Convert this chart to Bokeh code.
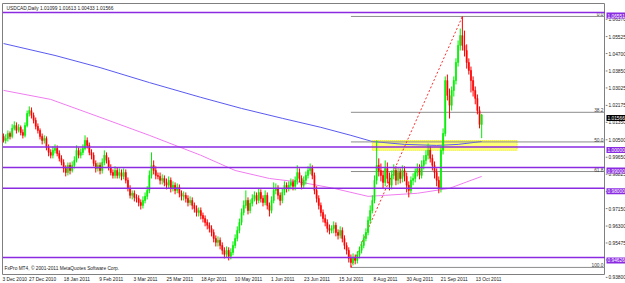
from bokeh.plotting import figure
from bokeh.layouts import row
from bokeh.models import ColumnDataSource, Range1d, FixedTicker, Span, Label
from bokeh.embed import file_html
from bokeh.resources import INLINE
from bokeh.core.properties import value

chart_title = "USDCAD,Daily  1.01099 1.01613 1.00433 1.01566"
copyright_note = "FxPro MT4, \u00a9 2001-2011 MetaQuotes Software Corp."

opens = [
    1.0052, 1.0032, 1.0042, 1.0066, 1.0052, 1.0091, 1.0105, 1.0081, 1.0096, 1.0071,
    1.0057, 1.0105, 1.0163, 1.0178, 1.0154, 1.0130, 1.0101, 1.0081, 1.0052, 1.0032,
    1.0042, 0.9998, 0.9974, 0.9960, 0.9984, 0.9993, 0.9969, 0.9945, 0.9925, 0.9896,
    0.9876, 0.9911, 0.9886, 0.9911, 0.9935, 0.9984, 0.9960, 0.9974, 0.9993, 1.0032,
    1.0008, 0.9974, 0.9960, 0.9920, 0.9896, 0.9911, 0.9886, 0.9925, 0.9960, 0.9935,
    0.9901, 0.9876, 0.9862, 0.9886, 0.9862, 0.9876, 0.9857, 0.9876, 0.9838, 0.9799,
    0.9765, 0.9775, 0.9755, 0.9750, 0.9730, 0.9716, 0.9740, 0.9760, 0.9789, 0.9862,
    0.9911, 0.9886, 0.9862, 0.9857, 0.9838, 0.9847, 0.9828, 0.9814, 0.9838, 0.9799,
    0.9814, 0.9789, 0.9804, 0.9775, 0.9760, 0.9765, 0.9750, 0.9730, 0.9740, 0.9716,
    0.9701, 0.9681, 0.9691, 0.9667, 0.9652, 0.9633, 0.9619, 0.9604, 0.9584, 0.9555,
    0.9536, 0.9546, 0.9521, 0.9497, 0.9477, 0.9497, 0.9468, 0.9487, 0.9521, 0.9555,
    0.9594, 0.9633, 0.9681, 0.9716, 0.9740, 0.9691, 0.9726, 0.9750, 0.9765, 0.9740,
    0.9779, 0.9750, 0.9730, 0.9765, 0.9716, 0.9691, 0.9740, 0.9789, 0.9799, 0.9765,
    0.9740, 0.9779, 0.9814, 0.9799, 0.9814, 0.9828, 0.9809, 0.9838, 0.9876, 0.9847,
    0.9814, 0.9838, 0.9862, 0.9886, 0.9896, 0.9862, 0.9789, 0.9750, 0.9716, 0.9681,
    0.9652, 0.9633, 0.9604, 0.9594, 0.9604, 0.9619, 0.9584, 0.9570, 0.9594, 0.9555,
    0.9521, 0.9497, 0.9458, 0.9438, 0.9463, 0.9448, 0.9473, 0.9497, 0.9521, 0.9555,
    0.9584, 0.9643, 0.9691, 0.9740, 0.9838, 0.9911, 0.9886, 0.9862, 0.9828, 0.9896,
    0.9847, 0.9814, 0.9862, 0.9886, 0.9838, 0.9876, 0.9847, 0.9886, 0.9857, 0.9814,
    0.9789, 0.9838, 0.9847, 0.9876, 0.9896, 0.9862, 0.9911, 0.9935, 0.9960, 0.9984,
    0.9945, 0.9911, 0.9876, 0.9838, 0.9799, 0.9984, 1.0066, 1.0324, 1.0251, 1.0203,
    1.0276, 1.0324, 1.0412, 1.0495, 1.0543, 1.0495, 1.0470, 1.0412, 1.0373, 1.0324,
    1.0276, 1.0237, 1.0178, 1.01099,
]
highs = [
    1.0066, 1.0062, 1.0081, 1.0076, 1.0111, 1.0125, 1.0120, 1.0111, 1.0105, 1.0086,
    1.0120, 1.0178, 1.0198, 1.0193, 1.0168, 1.0144, 1.0115, 1.0091, 1.0066, 1.0057,
    1.0052, 1.0013, 0.9989, 1.0003, 1.0013, 1.0008, 0.9984, 0.9960, 0.9940, 0.9911,
    0.9925, 0.9925, 0.9930, 0.9955, 1.0008, 0.9998, 0.9993, 1.0013, 1.0057, 1.0047,
    1.0022, 0.9989, 0.9974, 0.9935, 0.9925, 0.9925, 0.9945, 0.9984, 0.9974, 0.9950,
    0.9916, 0.9891, 0.9906, 0.9901, 0.9896, 0.9891, 0.9896, 0.9891, 0.9852, 0.9814,
    0.9789, 0.9789, 0.9770, 0.9765, 0.9745, 0.9760, 0.9779, 0.9809, 0.9886, 0.9974,
    0.9935, 0.9906, 0.9876, 0.9876, 0.9867, 0.9862, 0.9847, 0.9857, 0.9852, 0.9833,
    0.9828, 0.9823, 0.9818, 0.9789, 0.9784, 0.9779, 0.9765, 0.9760, 0.9755, 0.9730,
    0.9716, 0.9706, 0.9706, 0.9681, 0.9667, 0.9648, 0.9633, 0.9619, 0.9599, 0.9570,
    0.9565, 0.9560, 0.9536, 0.9512, 0.9516, 0.9512, 0.9507, 0.9541, 0.9575, 0.9614,
    0.9652, 0.9701, 0.9740, 0.9789, 0.9755, 0.9745, 0.9770, 0.9784, 0.9779, 0.9799,
    0.9794, 0.9765, 0.9789, 0.9779, 0.9730, 0.9760, 0.9828, 0.9823, 0.9814, 0.9779,
    0.9799, 0.9833, 0.9828, 0.9833, 0.9847, 0.9843, 0.9857, 0.9911, 0.9896, 0.9862,
    0.9857, 0.9881, 0.9906, 0.9920, 0.9911, 0.9876, 0.9809, 0.9765, 0.9730, 0.9696,
    0.9672, 0.9648, 0.9623, 0.9619, 0.9638, 0.9633, 0.9599, 0.9614, 0.9609, 0.9570,
    0.9536, 0.9512, 0.9477, 0.9482, 0.9477, 0.9492, 0.9516, 0.9541, 0.9575, 0.9604,
    0.9662, 0.9716, 0.9765, 0.9862, 1.0032, 0.9945, 0.9920, 0.9886, 0.9935, 0.9925,
    0.9876, 0.9886, 0.9916, 0.9906, 0.9901, 0.9896, 0.9911, 0.9906, 0.9876, 0.9833,
    0.9857, 0.9872, 0.9896, 0.9920, 0.9916, 0.9935, 0.9960, 0.9984, 1.0017, 1.0003,
    0.9964, 0.9930, 0.9896, 0.9857, 1.0003, 1.0091, 1.0344, 1.0353, 1.0285, 1.0295,
    1.0344, 1.0432, 1.0519, 1.0577, 1.0636, 1.0567, 1.0500, 1.0432, 1.0392, 1.0344,
    1.0295, 1.0256, 1.0198, 1.01613,
]
lows = [
    1.0022, 1.0017, 1.0027, 1.0037, 1.0042, 1.0081, 1.0066, 1.0071, 1.0057, 1.0042,
    1.0047, 1.0096, 1.0149, 1.0139, 1.0115, 1.0086, 1.0066, 1.0037, 1.0013, 1.0017,
    0.9984, 0.9955, 0.9945, 0.9945, 0.9969, 0.9955, 0.9930, 0.9911, 0.9876, 0.9857,
    0.9862, 0.9867, 0.9876, 0.9896, 0.9925, 0.9945, 0.9945, 0.9960, 0.9984, 0.9993,
    0.9960, 0.9940, 0.9906, 0.9876, 0.9881, 0.9867, 0.9871, 0.9911, 0.9920, 0.9886,
    0.9862, 0.9847, 0.9847, 0.9847, 0.9847, 0.9838, 0.9843, 0.9823, 0.9784, 0.9750,
    0.9745, 0.9735, 0.9730, 0.9711, 0.9696, 0.9701, 0.9726, 0.9745, 0.9775, 0.9847,
    0.9867, 0.9843, 0.9843, 0.9818, 0.9818, 0.9809, 0.9794, 0.9799, 0.9779, 0.9784,
    0.9770, 0.9775, 0.9755, 0.9740, 0.9740, 0.9730, 0.9711, 0.9716, 0.9696, 0.9681,
    0.9662, 0.9662, 0.9648, 0.9633, 0.9614, 0.9599, 0.9584, 0.9565, 0.9536, 0.9516,
    0.9516, 0.9502, 0.9477, 0.9458, 0.9463, 0.9448, 0.9453, 0.9473, 0.9507, 0.9541,
    0.9580, 0.9619, 0.9667, 0.9701, 0.9672, 0.9677, 0.9711, 0.9735, 0.9721, 0.9726,
    0.9730, 0.9711, 0.9716, 0.9696, 0.9662, 0.9677, 0.9726, 0.9770, 0.9745, 0.9716,
    0.9726, 0.9765, 0.9779, 0.9784, 0.9794, 0.9789, 0.9789, 0.9818, 0.9828, 0.9794,
    0.9799, 0.9818, 0.9847, 0.9867, 0.9843, 0.9770, 0.9730, 0.9696, 0.9662, 0.9633,
    0.9614, 0.9584, 0.9575, 0.9580, 0.9580, 0.9565, 0.9550, 0.9555, 0.9536, 0.9502,
    0.9477, 0.9438, 0.9414, 0.9424, 0.9429, 0.9433, 0.9458, 0.9482, 0.9507, 0.9541,
    0.9570, 0.9628, 0.9677, 0.9726, 0.9818, 0.9857, 0.9833, 0.9799, 0.9809, 0.9823,
    0.9789, 0.9794, 0.9843, 0.9814, 0.9818, 0.9823, 0.9828, 0.9833, 0.9779, 0.9755,
    0.9775, 0.9814, 0.9828, 0.9857, 0.9843, 0.9847, 0.9891, 0.9916, 0.9940, 0.9925,
    0.9886, 0.9847, 0.9809, 0.9775, 0.9779, 0.9964, 1.0052, 1.0227, 1.0139, 1.0178,
    1.0246, 1.0305, 1.0392, 1.0470, 1.0470, 1.0441, 1.0382, 1.0353, 1.0266, 1.0246,
    1.0208, 1.0159, 1.0091, 1.00433,
]
closes = [
    1.0032, 1.0042, 1.0066, 1.0052, 1.0091, 1.0105, 1.0081, 1.0096, 1.0071, 1.0057,
    1.0105, 1.0163, 1.0178, 1.0154, 1.0130, 1.0101, 1.0081, 1.0052, 1.0032, 1.0042,
    0.9998, 0.9974, 0.9960, 0.9984, 0.9993, 0.9969, 0.9945, 0.9925, 0.9896, 0.9876,
    0.9911, 0.9886, 0.9911, 0.9935, 0.9984, 0.9960, 0.9974, 0.9993, 1.0032, 1.0008,
    0.9974, 0.9960, 0.9920, 0.9896, 0.9911, 0.9886, 0.9925, 0.9960, 0.9935, 0.9901,
    0.9876, 0.9862, 0.9886, 0.9862, 0.9876, 0.9857, 0.9876, 0.9838, 0.9799, 0.9765,
    0.9775, 0.9755, 0.9750, 0.9730, 0.9716, 0.9740, 0.9760, 0.9789, 0.9862, 0.9911,
    0.9886, 0.9862, 0.9857, 0.9838, 0.9847, 0.9828, 0.9814, 0.9838, 0.9799, 0.9814,
    0.9789, 0.9804, 0.9775, 0.9760, 0.9765, 0.9750, 0.9730, 0.9740, 0.9716, 0.9701,
    0.9681, 0.9691, 0.9667, 0.9652, 0.9633, 0.9619, 0.9604, 0.9584, 0.9555, 0.9536,
    0.9546, 0.9521, 0.9497, 0.9477, 0.9497, 0.9468, 0.9487, 0.9521, 0.9555, 0.9594,
    0.9633, 0.9681, 0.9716, 0.9740, 0.9691, 0.9726, 0.9750, 0.9765, 0.9740, 0.9779,
    0.9750, 0.9730, 0.9765, 0.9716, 0.9691, 0.9740, 0.9789, 0.9799, 0.9765, 0.9740,
    0.9779, 0.9814, 0.9799, 0.9814, 0.9828, 0.9809, 0.9838, 0.9876, 0.9847, 0.9814,
    0.9838, 0.9862, 0.9886, 0.9896, 0.9862, 0.9789, 0.9750, 0.9716, 0.9681, 0.9652,
    0.9633, 0.9604, 0.9594, 0.9604, 0.9619, 0.9584, 0.9570, 0.9594, 0.9555, 0.9521,
    0.9497, 0.9458, 0.9438, 0.9463, 0.9448, 0.9473, 0.9497, 0.9521, 0.9555, 0.9584,
    0.9643, 0.9691, 0.9740, 0.9838, 0.9911, 0.9886, 0.9862, 0.9828, 0.9896, 0.9847,
    0.9814, 0.9862, 0.9886, 0.9838, 0.9876, 0.9847, 0.9886, 0.9857, 0.9814, 0.9789,
    0.9838, 0.9847, 0.9876, 0.9896, 0.9862, 0.9911, 0.9935, 0.9960, 0.9984, 0.9945,
    0.9911, 0.9876, 0.9838, 0.9799, 0.9984, 1.0066, 1.0324, 1.0251, 1.0203, 1.0276,
    1.0324, 1.0412, 1.0495, 1.0543, 1.0495, 1.0470, 1.0412, 1.0373, 1.0324, 1.0276,
    1.0237, 1.0178, 1.0110, 1.01566,
]

date_tick_bars = [0, 13, 29, 45, 61, 77, 93, 109, 125, 141, 157, 173, 189, 205, 221]
date_tick_labels = ["3 Dec 2010", "27 Dec 2010", "18 Jan 2011", "9 Feb 2011", "3 Mar 2011",
                    "25 Mar 2011", "18 Apr 2011", "10 May 2011", "1 Jun 2011", "23 Jun 2011",
                    "15 Jul 2011", "8 Aug 2011", "30 Aug 2011", "21 Sep 2011", "13 Oct 2011"]

price_ticks = [1.06370, 1.05525, 1.04700, 1.03850, 1.03025, 1.02175, 1.01350, 1.00500,
               0.99650, 0.98825, 0.97975, 0.97150, 0.96300, 0.95475, 0.94650, 0.93800]

hline_levels = [1.06551, 1.00000, 0.99000, 0.98000, 0.94626]
last_price = 1.01566

ma_slow_bars = [0, 24, 45, 68, 92, 111, 130, 148, 162, 172, 187, 202, 212, 223]
ma_slow_values = [1.0504, 1.0446, 1.0387, 1.0314, 1.0242, 1.0188, 1.0140, 1.0096, 1.0057,
                  1.0027, 1.0013, 1.0008, 1.0013, 1.0027]
ma_fast_bars = [0, 22, 45, 68, 92, 108, 124, 139, 154, 170, 178, 193, 208, 218, 223]
ma_fast_values = [1.0276, 1.0232, 1.0145, 1.0057, 0.9960, 0.9886, 0.9847, 0.9828, 0.9799,
                  0.9760, 0.9765, 0.9775, 0.9799, 0.9838, 0.9857]

fib_levels = [0.0, 38.2, 50.0, 61.8, 100.0]

zone_bars = [172, 239.5]
zone_prices = [0.9984, 1.0032]

# ---------------------------------------------------------------
FONT = "Liberation Sans"
FS = "4.8px"
PURPLE = "#8A2BE2"
TXT = "#202020"

FRAME_W, FRAME_H = 603, 271
TOP_PAD, BOT_PAD = 3, 9
x_start, x_end = -0.5, 280.75
y_start, y_end = 0.93795, 1.0699
label_shift = 5.2      # date labels start at their bar (MT4 style)

p = figure(frame_width=FRAME_W, frame_height=FRAME_H, x_range=Range1d(x_start, x_end),
           y_range=Range1d(y_start, y_end), y_axis_location=None,
           toolbar_location=None, output_backend="svg",
           min_border_left=2, min_border_top=TOP_PAD, min_border_right=0,
           min_border_bottom=BOT_PAD,
           background_fill_color="white", border_fill_color="white",
           outline_line_color="#7f7f7f")
p.grid.visible = False

# time axis
shifted = [b + label_shift for b in date_tick_bars]
xa = p.xaxis[0]
xa.ticker = FixedTicker(ticks=shifted)
xa.major_label_overrides = {s: t for s, t in zip(shifted, date_tick_labels)}
xa.axis_line_color = None
xa.major_tick_line_color = None
xa.minor_tick_line_color = None
xa.major_tick_out = 0
xa.major_tick_in = 0
xa.minor_tick_out = 0
xa.minor_tick_in = 0
xa.major_label_standoff = 2
xa.major_label_text_font = FONT
xa.major_label_text_font_size = FS
xa.major_label_text_color = TXT

# yellow zone
p.quad(left=zone_bars[0], right=zone_bars[1], bottom=zone_prices[0], top=zone_prices[1],
       fill_color="#FFFF66", fill_alpha=0.9, line_color="#E8E800", line_width=1,
       line_dash="1 1")

# moving averages
p.line(ma_slow_bars, ma_slow_values, line_color="#5a5af0", line_width=1)
p.line(ma_fast_bars, ma_fast_values, line_color="#f07cf0", line_width=1)

# fibonacci from low to high
hi = max(highs)
lo = min(lows)
i_hi = highs.index(hi)
i_lo = lows.index(lo)
fib_prices = [hi - (hi - lo) * lv / 100.0 for lv in fib_levels]
p.segment(x0=[i_lo] * len(fib_prices), y0=fib_prices, x1=[x_end] * len(fib_prices),
          y1=fib_prices, line_color="#8c8c8c", line_width=1)
p.text(x=[x_end] * len(fib_prices), y=fib_prices, text=[f"{lv:.1f}" for lv in fib_levels],
       text_align="right", text_baseline="bottom", x_offset=-2, y_offset=0,
       text_font=value(FONT), text_font_size=FS, text_color="#404040")
p.line([i_lo, i_hi], [lo, hi], line_color="#ff3030", line_width=1, line_dash="2 2")

# candles
n = len(closes)
up = [c >= o for o, c in zip(opens, closes)]
src = ColumnDataSource(dict(
    x=list(range(n)), o=opens, h=highs, l=lows, c=closes,
    top=[max(o, c) for o, c in zip(opens, closes)],
    bottom=[min(o, c) for o, c in zip(opens, closes)],
    color=["#00f000" if u else "#ff0000" for u in up],
))
p.segment(x0="x", y0="l", x1="x", y1="h", line_color="color", line_width=1, source=src)
p.vbar(x="x", width=0.5, top="top", bottom="bottom", fill_color="color",
       line_color="color", line_width=0.6, source=src)

# horizontal lines
for lv in hline_levels:
    p.add_layout(Span(location=lv, dimension="width", line_color=PURPLE, line_width=1.5))

# texts
p.add_layout(Label(x=x_start, y=y_end, x_offset=4, y_offset=-2, text=chart_title,
                   text_baseline="top", text_font=FONT, text_font_size=FS,
                   text_color=TXT))
p.add_layout(Label(x=x_start, y=y_start, x_offset=2, y_offset=4, text=copyright_note,
                   text_baseline="bottom", text_font=FONT, text_font_size=FS,
                   text_color=TXT))

# ---------------- price scale (same y scale, extended over the margins) -------------
res = (y_end - y_start) / FRAME_H
sc = figure(frame_width=20, frame_height=FRAME_H + TOP_PAD + BOT_PAD,
            x_range=Range1d(0, 20),
            y_range=Range1d(y_start - BOT_PAD * res, y_end + TOP_PAD * res),
            x_axis_location=None, y_axis_location=None, toolbar_location=None,
            output_backend="svg", min_border=0, outline_line_color=None,
            background_fill_color="white", border_fill_color="white")
sc.grid.visible = False
sc.segment(x0=0, y0=price_ticks, x1=2, y1=price_ticks, line_color="#7f7f7f", line_width=1)
sc.text(x=3, y=price_ticks, text=[f"{t:.5f}" for t in price_ticks], text_baseline="middle",
        text_font=value(FONT), text_font_size=FS, text_color=TXT)
sc.text(x=1, y=hline_levels, text=[f"{v:.5f}" for v in hline_levels],
        text_baseline="middle", text_font=value(FONT), text_font_size=FS,
        text_color="white", background_fill_color=PURPLE, padding=1)
sc.text(x=1, y=[last_price], text=[f"{last_price:.5f}"], text_baseline="middle",
        text_font=value(FONT), text_font_size=FS, text_color="white",
        background_fill_color="#000000", padding=1)

layout = row(p, sc, spacing=0)
open("out.html", "w").write(file_html(layout, INLINE))
